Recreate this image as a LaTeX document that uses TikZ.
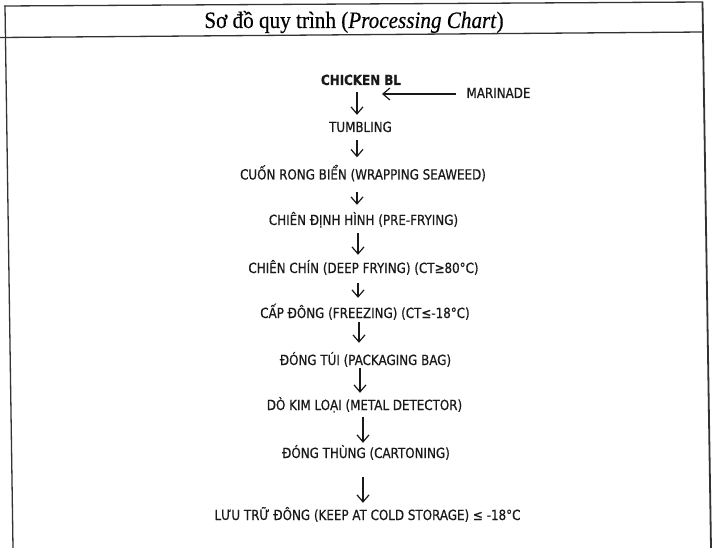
\documentclass[tikz,border=0pt]{standalone}
\usepackage{fontspec}
\setmainfont{DejaVu Sans}[FakeStretch=0.85,FakeBold=0.6]
\newfontfamily\titlefont{Liberation Serif}[FakeStretch=0.9,FakeBold=0.4]
\usetikzlibrary{arrows.meta}
\begin{document}
\begin{tikzpicture}[x=1pt,y=-1pt,
proc/.style={%
font=\fontsize{14}{16}\selectfont,
inner sep=0pt,
text height=10pt,
text depth=0pt,
text=black!90,
},
ttl/.style={%
font=\titlefont\fontsize{23.5}{26}\selectfont,
inner sep=0pt,
anchor=base,
},
flowarrow/.style={%
-{Straight Barb[length=7pt,width=12pt,line width=1.2pt]},
line width=1.2pt,
black!90,
},
tableline/.style={%
line width=1.3pt,
black!80,
},
]
\useasboundingbox (0,0) rectangle (720,548);
%% table frame
\draw[tableline] (4,6) -- (703,2);
\draw[tableline] (0,37.5) -- (703,32);
\draw[tableline] (5,6) -- (13,548);
\draw[tableline,line width=1.8pt] (702.5,2) -- (711,548);
\node[ttl]at(354,28)(title){Sơ đồ quy trình (\textit{Processing Chart})};
%% steps
\node[proc,font=\fontsize{14}{16}\selectfont\bfseries]at(361,80)(chicken){CHICKEN BL};
\node[proc]at(498.5,93)(marinade){MARINADE};
\node[proc]at(360.5,127)(tumbling){TUMBLING};
\node[proc]at(363,174.5)(wrap){CUỐN RONG BIỂN (WRAPPING SEAWEED)};
\node[proc]at(363.5,220)(prefry){CHIÊN ĐỊNH HÌNH (PRE-FRYING)};
\node[proc]at(363.5,268)(deepfry){CHIÊN CHÍN (DEEP FRYING) (CT≥80°C)};
\node[proc]at(365,313)(freeze){CẤP ĐÔNG (FREEZING) (CT≤-18°C)};
\node[proc]at(365.5,360)(bag){ĐÓNG TÚI (PACKAGING BAG)};
\node[proc]at(364.5,405)(metal){DÒ KIM LOẠI (METAL DETECTOR)};
\node[proc]at(366,453)(carton){ĐÓNG THÙNG (CARTONING)};
\node[proc]at(367.5,515)(storage){LƯU TRỮ ĐÔNG (KEEP AT COLD STORAGE) ≤ -18°C};
%% arrows
\coordinate(marjoin)at(382,94);
\draw[flowarrow,shorten <=10pt](marinade.west|-marjoin)--(marjoin);
\draw[flowarrow,shorten <=7pt,shorten >=7pt]([xshift=-4pt]chicken.south)--([xshift=-4pt]chicken.south|-tumbling.north);
\draw[flowarrow,shorten <=8pt,shorten >=12pt]([xshift=-3.5pt]tumbling.south)--([xshift=-3.5pt]tumbling.south|-wrap.north);
\draw[flowarrow,shorten <=12.5pt,shorten >=10pt]([xshift=-6pt]wrap.south)--([xshift=-6pt]wrap.south|-prefry.north);
\draw[flowarrow,shorten <=8pt,shorten >=8pt]([xshift=-5.5pt]prefry.south)--([xshift=-5.5pt]prefry.south|-deepfry.north);
\draw[flowarrow,shorten <=10pt,shorten >=10pt]([xshift=-5.5pt]deepfry.south)--([xshift=-5.5pt]deepfry.south|-freeze.north);
\draw[flowarrow,shorten <=4pt,shorten >=12pt]([xshift=-6pt]freeze.south)--([xshift=-6pt]freeze.south|-bag.north);
\draw[flowarrow,shorten <=3pt,shorten >=7pt]([xshift=-5.5pt]bag.south)--([xshift=-5.5pt]bag.south|-metal.north);
\draw[flowarrow,shorten <=7pt,shorten >=5pt]([xshift=-1.5pt]metal.south)--([xshift=-1.5pt]metal.south|-carton.north);
\draw[flowarrow,shorten <=19pt,shorten >=7pt]([xshift=-3pt]carton.south)--([xshift=-3pt]carton.south|-storage.north);
\end{tikzpicture}
\end{document}
